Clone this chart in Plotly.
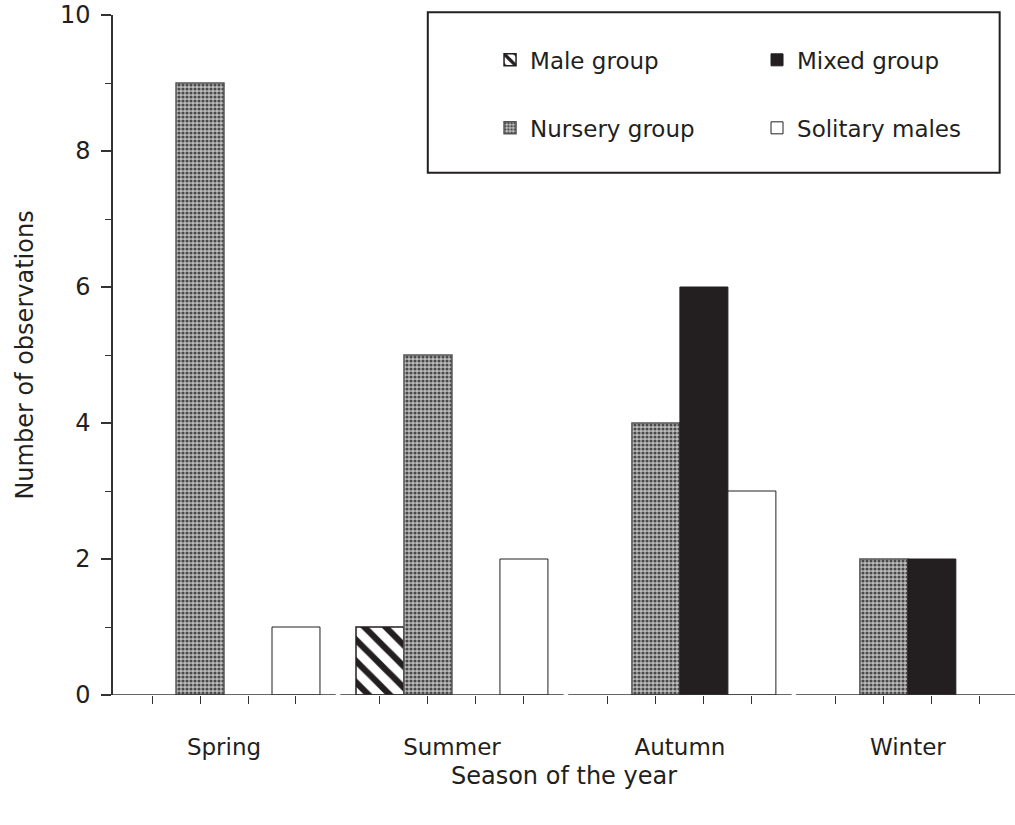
import plotly.graph_objects as go

seasons = ["Spring", "Summer", "Autumn", "Winter"]
male_group = [0, 1, 0, 0]
nursery_group = [9, 5, 4, 2]
mixed_group = [0, 0, 6, 2]
solitary_males = [1, 2, 3, 0]

series_names = ["Male group", "Nursery group", "Mixed group", "Solitary males"]
series_values = [male_group, nursery_group, mixed_group, solitary_males]

xpos = list(range(len(seasons)))
bar_w = 0.2105
bargap = 1 - 4 * bar_w

FONT = "DejaVu Sans"
INK = "#231f20"

styles = [
    dict(color="white", line=dict(color=INK, width=1.5),
         pattern=dict(shape="\\", fgcolor=INK, bgcolor="white", size=15, solidity=0.42,
                      fillmode="replace", fgopacity=1)),
    dict(color="#9a9a9a", line=dict(color="#555555", width=1.5),
         pattern=dict(shape=".", fgcolor="#4a4a4a", bgcolor="#bdbdbd", size=4, solidity=0.5,
                      fillmode="replace", fgopacity=1)),
    dict(color=INK, line=dict(color=INK, width=1)),
    dict(color="white", line=dict(color=INK, width=1)),
]
legend_ids = ["legend", "legend3", "legend2", "legend4"]
# legend slot placement (paper coords): male, mixed top row; nursery, solitary second row
legend_pos = {
    "legend": (0.418, 0.934),
    "legend2": (0.714, 0.934),
    "legend3": (0.418, 0.834),
    "legend4": (0.714, 0.834),
}

fig = go.Figure()
for name, vals, st, lg in zip(series_names, series_values, styles, legend_ids):
    fig.add_trace(go.Bar(
        x=xpos, y=[v if v else None for v in vals], name=name,
        marker=st, legend=lg, showlegend=True,
    ))

# ticks at each bar slot centre
minor_ticks = [c + (k - 1.5) * bar_w for c in xpos for k in range(4)]

# broken x-axis segments per category
gap = 0.01
shapes = []
for c in xpos:
    shapes.append(dict(type="line", xref="x", yref="y", x0=max(c - 0.5 + gap, -0.487), x1=c + 0.5 - gap,
                       y0=0, y1=0, line=dict(color="#333333", width=1.5)))
# legend box
shapes.append(dict(type="rect", xref="paper", yref="paper", x0=0.349, x1=0.983, y0=0.768, y1=1.004,
                   line=dict(color=INK, width=2), fillcolor="rgba(0,0,0,0)"))

legends = {
    lid: dict(orientation="h", x=px, y=py, xanchor="left", yanchor="middle",
              font=dict(size=23), bgcolor="rgba(0,0,0,0)")
    for lid, (px, py) in legend_pos.items()
}

fig.update_layout(
    width=1015, height=825,
    margin=dict(l=113, r=0, t=15, b=130),
    paper_bgcolor="white", plot_bgcolor="white",
    showlegend=True,
    barmode="group", bargap=bargap, bargroupgap=0,
    font=dict(family=FONT, size=23, color=INK),
    shapes=shapes,
    xaxis=dict(
        range=[-0.487, 3.47], tickvals=xpos, ticktext=seasons, ticks="", showline=False,
        showgrid=False, zeroline=False, ticklabelstandoff=36, automargin=False,
        tickfont=dict(size=23),
        minor=dict(tickvals=minor_ticks, ticks="outside", ticklen=8, tickcolor="#333333", tickwidth=1),
        title=dict(text="Season of the year", standoff=8, font=dict(size=24)),
    ),
    yaxis=dict(
        range=[0, 10], dtick=2, ticks="outside", ticklen=10, tickwidth=1.5, tickcolor="#333333",
        showline=True, linecolor="#333333", linewidth=1.5, showgrid=False, zeroline=False,
        ticklabelstandoff=6, automargin=True, tickfont=dict(size=24), ticklabeloverflow="allow",
        minor=dict(dtick=1, ticks="outside", ticklen=6, tickcolor="#333333", tickwidth=1),
        title=dict(text="Number of observations", standoff=20, font=dict(size=24)),
    ),
    **legends,
)

fig.write_html("out.html", config={"displayModeBar": False},
               post_script="document.body.style.margin='0';")
